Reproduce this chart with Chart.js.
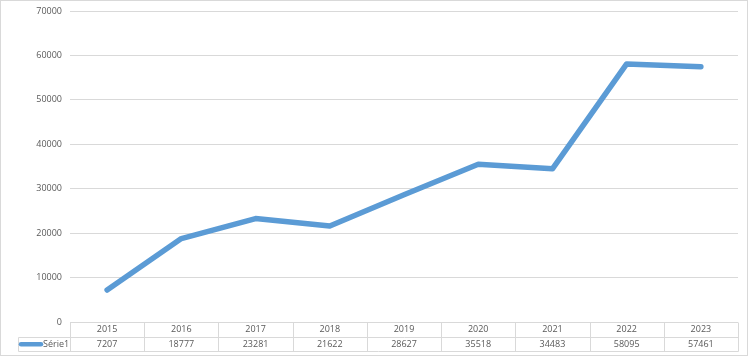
<!DOCTYPE html>
<html><head><meta charset="utf-8">
<script src="https://cdn.jsdelivr.net/npm/chart.js@4"></script>
<style>html,body{margin:0;padding:0;background:#fff}#wrap{width:750px;height:357px;position:relative}</style>
</head><body><div id="wrap"><canvas id="c" width="750" height="357"></canvas></div>
<script>
const categories = ["2015","2016","2017","2018","2019","2020","2021","2022","2023"];
const serie1 = [7207,18777,23281,21622,28627,35518,34483,58095,57461];
const seriesName = "Série1";
const yTicks = [0,10000,20000,30000,40000,50000,60000,70000];

const FONT = '"Open Sans", "Liberation Sans", sans-serif';
const TXT = '#595959';
const GRID = '#D9D9D9';
const LINE = '#5B9BD5';

const tablePlugin = {
  id: 'tablePlugin',
  afterDraw(chart) {
    const ctx = chart.ctx, ca = chart.chartArea, xs = chart.scales.x;
    const top = ca.bottom, mid = top + 14.5, bot = top + 29;
    const n = categories.length, colW = (ca.right - ca.left) / n;
    ctx.save();
    ctx.strokeStyle = GRID; ctx.lineWidth = 1;
    ctx.beginPath();
    const L = Math.round(ca.left) + 0.5, R = Math.round(ca.right) + 0.5;
    ctx.moveTo(L, Math.round(mid) + 0.5); ctx.lineTo(R, Math.round(mid) + 0.5);
    ctx.moveTo(18.5, Math.round(mid) + 0.5); ctx.lineTo(L, Math.round(mid) + 0.5);
    ctx.moveTo(18.5, Math.round(bot) + 0.5); ctx.lineTo(R, Math.round(bot) + 0.5);
    ctx.moveTo(18.5, Math.round(mid) + 0.5); ctx.lineTo(18.5, Math.round(bot) + 0.5);
    for (let i = 0; i <= n; i++) {
      const x = Math.round(ca.left + i * colW) + 0.5;
      ctx.moveTo(x, Math.round(top) + 0.5); ctx.lineTo(x, Math.round(bot) + 0.5);
    }
    ctx.stroke();
    ctx.fillStyle = TXT; ctx.font = '9px ' + FONT;
    ctx.textAlign = 'center'; ctx.textBaseline = 'middle';
    for (let i = 0; i < n; i++) {
      const x = xs.getPixelForValue(i);
      ctx.fillText(categories[i], x, (top + mid) / 2 + 0.5);
      ctx.fillText(String(serie1[i]), x, (mid + bot) / 2 + 0.5);
    }
    // legend key
    ctx.strokeStyle = LINE; ctx.lineWidth = 4.5; ctx.lineCap = 'round';
    ctx.beginPath(); ctx.moveTo(21, (mid + bot) / 2 + 0.5); ctx.lineTo(41, (mid + bot) / 2 + 0.5); ctx.stroke();
    ctx.textAlign = 'left';
    ctx.fillText(seriesName, 43, (mid + bot) / 2 + 0.5);
    // outer border
    ctx.strokeStyle = GRID; ctx.lineWidth = 1;
    ctx.strokeRect(0.5, 0.5, 747, 355);
    ctx.restore();
  }
};

new Chart(document.getElementById('c'), {
  type: 'line',
  data: { labels: categories, datasets: [{ label: seriesName, data: serie1, borderColor: LINE, backgroundColor: LINE, borderWidth: 5.5, pointRadius: 0, tension: 0, borderCapStyle: 'round', borderJoinStyle: 'round' }] },
  options: {
    responsive: false, animation: false, devicePixelRatio: 1,
    layout: { padding: { left: 0, right: 12, top: 11, bottom: 35 } },
    plugins: { legend: { display: false }, tooltip: { enabled: false } },
    scales: {
      x: { type: 'category', offset: true, display: false },
      y: {
        min: 0, max: 70000,
        afterFit(s) { s.width = 70; s.paddingTop = 0; s.paddingBottom = 0; },
        afterBuildTicks(s) { s.ticks = yTicks.map(v => ({ value: v })); },
        border: { display: false },
        grid: { color: GRID, lineWidth: 1, drawTicks: false },
        ticks: { color: TXT, font: { family: FONT, size: 9 }, padding: 8, callback: v => String(v) }
      }
    }
  },
  plugins: [tablePlugin]
});
</script></body></html>
